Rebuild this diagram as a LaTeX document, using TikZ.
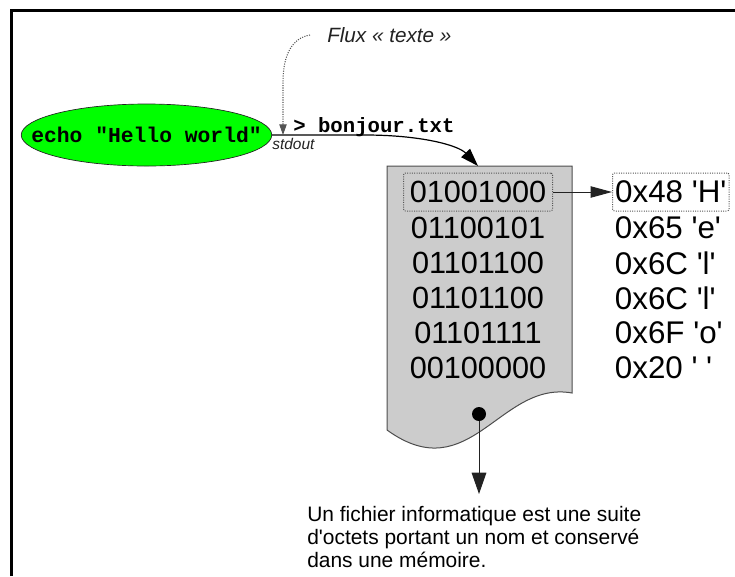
\documentclass[tikz,border=0pt]{standalone}
\usepackage{fontspec}
\setmainfont{Liberation Sans}
\setsansfont{Liberation Sans}
\setmonofont{Liberation Mono}
\usetikzlibrary{arrows.meta,shapes.geometric}
\definecolor{echogreen}{HTML}{00FF00}
\definecolor{docfill}{HTML}{CCCCCC}
\definecolor{docline}{HTML}{4D4D4D}
\definecolor{dotgray}{HTML}{555555}
\definecolor{inkgray}{HTML}{222222}
\newcommand{\sq}{\textquotesingle}

\begin{document}
\begin{tikzpicture}[x=0.75pt, y=-0.75pt,
  frame/.style = {draw=black, line width=2.25pt},
  cmd/.style   = {ellipse, draw=inkgray, line width=0.5pt, fill=echogreen,
                  inner xsep=-20pt, inner ysep=0pt,
                  minimum width=185pt, minimum height=46.5pt,
                  font=\fontsize{16}{18}\selectfont\ttfamily\bfseries},
  redir/.style = {anchor=west, inner sep=0pt, font=\fontsize{15.5}{18}\selectfont\ttfamily\bfseries},
  tag/.style   = {anchor=west, inner sep=0pt, text=inkgray, font=\fontsize{11.6}{13}\selectfont\itshape},
  flux/.style  = {anchor=west, inner sep=0pt, text=inkgray, font=\fontsize{15.5}{18}\selectfont\itshape},
  doc/.style   = {draw=docline, line width=0.75pt, fill=docfill},
  byte/.style  = {inner sep=0pt, minimum width=111.75pt, minimum height=28.5pt,
                  font=\fontsize{23}{27}\selectfont},
  hex/.style   = {anchor=west, inner xsep=2pt, inner ysep=0pt, minimum height=28.5pt,
                  font=\fontsize{23.5}{27}\selectfont},
  box/.style   = {draw=dotgray, densely dotted, line width=0.75pt, rounded corners=1.5pt},
  note/.style  = {anchor=north west, inner sep=0pt, align=left,
                  font=\fontsize{15.7}{17.25}\selectfont},
  pipe/.style  = {-{Triangle[length=13.5pt, width=9pt]}, draw=black, line width=0.9pt},
  ln/.style    = {-{Triangle[length=16pt, width=8.5pt]}, draw=inkgray, line width=0.75pt},
  down/.style  = {-{Triangle[length=16pt, width=11pt]}, draw=inkgray, line width=0.75pt},
  hint/.style  = {-{Triangle[length=8pt, width=5.5pt]}, draw=dotgray, densely dotted, line width=0.8pt},
  pin/.style   = {circle, fill=black, inner sep=0pt, minimum size=10.5pt},
]
\useasboundingbox (0,0) rectangle (735,576);

% --- frame, only its top and left edges are in view ------------------------------
\draw[frame] (11,576) -- (11,10.5) -- (735,10.5);

% --- the command and its redirection ----------------------------------------------
\node[cmd] (echo) at (146.5,135) {echo "Hello world"};
\node[redir] (dest) at (293,127) {> bonjour.txt};
\node[tag] (stdout) at (272,144) {stdout};
\node[flux] (flux) at (327,35) {Flux « texte »};
\coordinate (tap) at (283,135);

% --- the file, a page with a wavy foot ---------------------------------------------
\draw[doc] (387,166) -- (572,166) -- (572,393)
  .. controls (500,380) and (470,490) .. (387,430) -- cycle;
\coordinate (doctop) at (478,166);

\draw[pipe] (echo.east) -- (365,135) .. controls (420,135) and (458,145) .. (doctop);
\draw[hint] ([xshift=-12.75pt]flux.west) .. controls (292,38) and (283,55) .. (283,82) -- (tap);

% --- bytes and what they stand for ---------------------------------------------------
\node[byte, box] (b1) at (478,192) {01001000};
\node[byte] (b2) at (478,228) {01100101};
\node[byte] (b3) at (478,263) {01101100};
\node[byte] (b4) at (478,298) {01101100};
\node[byte] (b5) at (478,333) {01101111};
\node[byte] (b6) at (478,368) {00100000};

\node[hex, box] (h1) at (612,192) {0x48 \sq H\sq};
\node[hex] (h2) at (612,228) {0x65 \sq e\sq};
\node[hex] (h3) at (612,263) {0x6C \sq l\sq};
\node[hex] (h4) at (612,298) {0x6C \sq l\sq};
\node[hex] (h5) at (612,333) {0x6F \sq o\sq};
\node[hex] (h6) at (612,368) {0x20 \sq\ \sq};

\draw[ln] (b1.east) -- (h1.west);

% --- the definition below ---------------------------------------------------------------
\node[pin] (dot) at (479,414) {};
\node[note] (def) at (307,506) {Un fichier informatique est une suite\\
  d\sq octets portant un nom et conservé\\dans une mémoire.};
\draw[down, shorten >=9pt] (dot) -- (dot |- def.north);

\end{tikzpicture}
\end{document}
